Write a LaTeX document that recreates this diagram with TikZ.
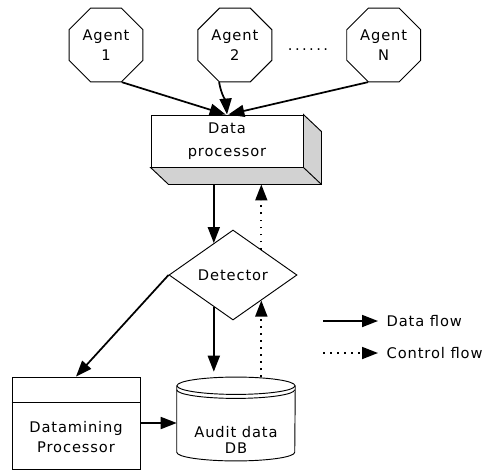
\documentclass[tikz,border=0pt]{standalone}
\usepackage{fontspec}
\setmainfont{DejaVu Sans}[LetterSpace=6]
\usetikzlibrary{positioning}
\usetikzlibrary{shapes.geometric}
\usetikzlibrary{arrows.meta}

\begin{document}
\begin{tikzpicture}[
  x=0.75pt, y=-0.75pt,
  every node/.style={font=\fontsize{11}{15}\selectfont, align=center},
  agent/.style={draw, regular polygon, regular polygon sides=8, minimum size=60pt, inner sep=0pt, line width=0.7pt},
  procbox/.style={draw, rectangle, minimum width=114pt, minimum height=39pt, line width=0.7pt},
  detbox/.style={draw, diamond, minimum width=96pt, minimum height=67.5pt, inner sep=0pt, line width=0.7pt},
  minebox/.style={draw, rectangle, minimum width=96pt, minimum height=69pt, line width=0.7pt},
  dbbody/.style={rectangle, minimum width=88.5pt, minimum height=49.5pt, inner sep=0pt},
  outline/.style={line width=0.7pt},
  dataflow/.style={-{Triangle[length=12pt,width=9pt]}, line width=1.3pt},
  ctrlflow/.style={-{Triangle[length=12pt,width=9pt]}, line width=1.3pt, dash pattern=on 1.3pt off 4pt}
]
\useasboundingbox (0,0) rectangle (490,469);

% agents
\node[agent] (agent1) at (106,45) {Agent\\1};
\node[agent, right=40.5pt of agent1] (agent2) {Agent\\2};
\node[agent, right=55.5pt of agent2] (agentN) {Agent\\N};
\node (dots) at (308,50) {.\,.\,.\,.\,.\,.};

% data processor with its 3d side
\node[procbox, font=\fontsize{11}{17}\selectfont] (dp) at (227,141) {Data\\processor};
\filldraw[outline, fill=gray!35] (dp.north east) -- ++(18,17) -- ([shift={(18,17)}]dp.south east)
  -- ([shift={(18,17)}]dp.south west) -- (dp.south west) -- (dp.south east) -- cycle;
\draw[outline] (dp.south east) -- ([shift={(18,17)}]dp.south east);
\coordinate (dpbase) at ([shift={(18,17)}]dp.south);

\draw[dataflow] (agent1.-67) -- ([xshift=-1pt]dp.north);
\draw[dataflow] (agent2.-113) to[out=-80, in=95] (dp.north);
\draw[dataflow] (agentN.-113) -- ([xshift=1pt]dp.north);

% detector
\node[detbox] (det) at (233,275) {Detector};
\draw[dataflow] (det.121 |- dpbase) -- (det.121);
\draw[ctrlflow] (det.42) -- (det.42 |- dpbase);

% datamining processor
\node[minebox] (dm) at (76,423) {};
\draw[outline] ([yshift=-19.5pt]dm.north west) -- ([yshift=-19.5pt]dm.north east);
\node (dmtext) at (76,437) {Datamining\\Processor};
\draw[dataflow] (det.west) -- (dm.north);

% audit db
\node[dbbody] (db) at (236,419) {};
\draw[outline] (db.north west) -- (db.south west)
  arc[start angle=180, end angle=360, x radius=44.25pt, y radius=6.5pt] -- (db.north east);
\draw[outline] (db.north) ellipse[x radius=44.25pt, y radius=6.5pt];
\draw[outline] ([yshift=-3pt]db.north west)
  arc[start angle=180, end angle=360, x radius=44.25pt, y radius=6.5pt];
\coordinate (dbtop) at ([yshift=6.5pt]db.north);
\node[font=\fontsize{11}{12.5}\selectfont] (dbtext) at (236,440) {Audit data\\DB};

\draw[dataflow, shorten >=4pt] (det.239) -- (det.239 |- dbtop);
\draw[ctrlflow] (det.-42 |- dbtop) -- (det.-42);
\draw[dataflow] (dm.east) -- (dm.east -| db.west);

% legend
\node[anchor=west] (key1) at (382,321) {Data flow};
\node[anchor=west] (key2) at (382,353) {Control flow};
\coordinate (key1a) at (323,321);
\coordinate (key2a) at (323,353);
\draw[dataflow, shorten >=3pt] (key1a) -- (key1.west);
\draw[ctrlflow, shorten >=3pt] (key2a) -- (key2.west);
\end{tikzpicture}
\end{document}
